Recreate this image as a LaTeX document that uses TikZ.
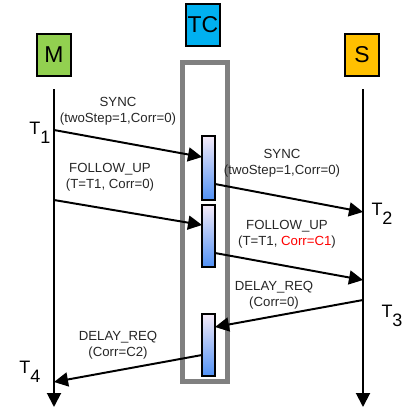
\documentclass[tikz,border=0pt]{standalone}
\usepackage{fontspec}
\setmainfont{Liberation Sans}
\usetikzlibrary{arrows.meta,positioning}

\definecolor{barTop}{RGB}{245,235,248}
\definecolor{barMid}{RGB}{160,200,250}
\definecolor{barBot}{RGB}{80,145,245}

\begin{document}
\begin{tikzpicture}[
  x=0.025cm,y=-0.025cm,
  >={Triangle[length=3.5mm,width=3.5mm]},
  party/.style={draw,line width=1pt,minimum width=0.85cm,minimum height=1.05cm,inner sep=0pt,
                font=\fontsize{16.3}{18}\selectfont},
  tcframe/.style={draw=black!50,line width=3.5pt,minimum width=1.125cm,minimum height=7.975cm,inner sep=0pt},
  bar/.style={draw,line width=1.1pt,minimum width=0.325cm,inner sep=0pt,
              top color=barTop,middle color=barMid,bottom color=barBot},
  msg/.style={->,line width=1.4pt},
  lbl/.style={align=center,font=\fontsize{9.4}{11.5}\selectfont,text=black!85,inner sep=0pt},
  stamp/.style={font=\fontsize{12.8}{14}\selectfont,inner sep=0pt},
]
\useasboundingbox (0,0) rectangle (407,408);

% column centres
\def\MX{54}
\def\BX{208.5}
\def\SX{363}

% ---------------- parties ----------------
\node[party,fill={rgb,255:red,146;green,208;blue,80}] (M) at (\MX,55) {M};
\node[party,fill={rgb,255:red,0;green,176;blue,240}] (TC) at (203,25) {TC};
\node[party,fill={rgb,255:red,255;green,192;blue,0}] (S) at (362,55) {S};

% ---------------- transparent clock frame and residence bars ----------------
\node[tcframe] (frame) at (205,222) {};
\node[bar,minimum height=1.6cm] (bar1) at (\BX,168) {};
\node[bar,minimum height=1.55cm] (bar2) at (\BX,236) {};
\node[bar,minimum height=1.55cm] (bar3) at (\BX,345) {};

% ---------------- lifelines ----------------
\coordinate (Mtop) at (\MX,89);  \coordinate (Mbot) at (\MX,407);
\coordinate (Stop) at (\SX,89);  \coordinate (Sbot) at (\SX,407);
\draw[msg] (Mtop) -- (Mbot);
\draw[msg] (Stop) -- (Sbot);

% ---------------- message end points ----------------
\coordinate (t1) at (\MX,130);   \coordinate (in1) at (202,157);
\coordinate (out1) at (215,184); \coordinate (t2) at (\SX,212);
\coordinate (fu) at (\MX,200);   \coordinate (in2) at (202,225);
\coordinate (out2) at (215,253); \coordinate (fuS) at (\SX,280);
\coordinate (t3) at (\SX,300);   \coordinate (in3) at (215,327);
\coordinate (out3) at (202,355); \coordinate (t4) at (\MX,382);

% ---------------- messages ----------------
\foreach \a/\b in {t1/in1,out1/t2,fu/in2,out2/fuS,t3/in3,out3/t4}{\draw[msg] (\a) -- (\b);}

% ---------------- labels ----------------
\node[lbl] (sync1) at (118,111) {SYNC\\(twoStep=1,Corr=0)};
\node[lbl] (sync2) at (282,163) {SYNC\\(twoStep=1,Corr=0)};
\node[lbl] (fup1) at (110,177) {FOLLOW\_UP\\(T=T1, Corr=0)};
\node[lbl] (fup2) at (287,234) {FOLLOW\_UP\\(T=T1, \textcolor{red}{Corr=C1})};
\node[lbl] (dreq1) at (274,295) {DELAY\_REQ\\(Corr=0)};
\node[lbl] (dreq2) at (118,345) {DELAY\_REQ\\(Corr=C2)};

\node[stamp] (T1) at (40,133) {T\raisebox{-0.5em}{1}};
\node[stamp] (T2) at (382,214) {T\raisebox{-0.5em}{2}};
\node[stamp] (T3) at (392,316) {T\raisebox{-0.5em}{3}};
\node[stamp] (T4) at (30,372) {T\raisebox{-0.5em}{4}};

\end{tikzpicture}
\end{document}
